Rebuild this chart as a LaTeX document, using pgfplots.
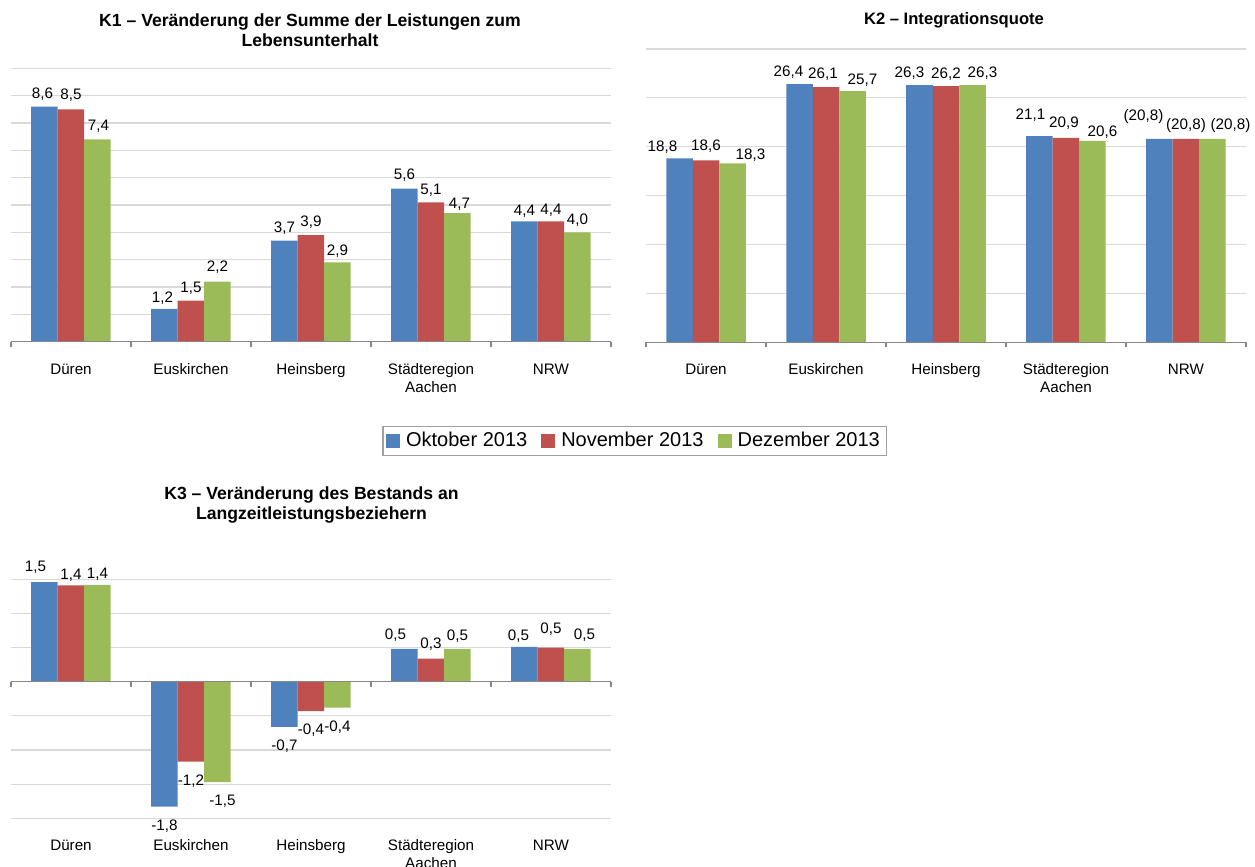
\documentclass[border=0pt]{standalone}
\usepackage{pgfplots}
\pgfplotsset{compat=1.18}
\usepackage{pgfplotstable}
\usepackage{fontspec}
\setmainfont{Liberation Sans}
\definecolor{cblue}{HTML}{4F81BD}
\definecolor{cred}{HTML}{C0504D}
\definecolor{cgreen}{HTML}{9BBB59}
\definecolor{gridc}{HTML}{D9D9D9}
\definecolor{axc}{HTML}{868686}
\definecolor{legc}{HTML}{A0A0A0}

% dx, dy: label offsets in px (dy = label centre above bar end)
\pgfplotstableread{
x a b c la lb lc dxa dxb dxc dya dyb dyc
0 8.6 8.5 7.4 8,6 8,5 7,4 -2 0 1 14 16 15
1 1.2 1.5 2.2 1,2 1,5 2,2 -2 0 0 13 14 16
2 3.7 3.9 2.9 3,7 3,9 2,9 0 0 0 14 15 13
3 5.6 5.1 4.7 5,6 5,1 4,7 0 0 2 15 14 11
4 4.4 4.4 4.0 4,4 4,4 4,0 0 0 0 12 13 14
}\kone

\pgfplotstableread{
x a b c la lb lc dxa dxb dxc dya dyb dyc
0 18.8 18.6 18.3 18,8 18,6 18,3 -17 0 18 13.3 16.6 10.2
1 26.4 26.1 25.7 26,4 26,1 25,7 -11 -3 10 14.4 14.6 12.9
2 26.3 26.2 26.3 26,3 26,2 26,3 -10 0 10 13.7 13.7 13.7
3 21.1 20.9 20.6 21,1 20,9 20,6 -9 -2 10 23 16.4 11
4 20.8 20.8 20.8 (20,8) (20,8) (20,8) -16 0 18 24 15.8 15.8
}\ktwo

\pgfplotstableread{
x a b c la lb lc dxa dxb dxc dya dyb dyc
0 1.46 1.41 1.42 1,5 1,4 1,4 -9 0 0 16.6 12.7 12.2
1 -1.83 -1.17 -1.47 -1,8 -1,2 -1,5 0 0 5 -17.7 -17.7 -17.3
2 -0.66 -0.43 -0.38 -0,7 -0,4 -0,4 0 0 0 -17.3 -16.6 -17.4
3 0.48 0.34 0.48 0,5 0,3 0,5 -9 0 0 16 16 14.3
4 0.51 0.50 0.48 0,5 0,5 0,5 -6 0 7 12.3 20.6 16
}\kthree

\pgfplotsset{
  kbase/.style={
    scale only axis, width=300pt,
    xmin=-0.5, xmax=4.5, enlargelimits=false,
    ybar=0pt, bar width=13.25pt,
    axis line style={draw=none},
    xtick={0,1,2,3,4},
    xticklabels={Düren,Euskirchen,Heinsberg,{Städteregion\\Aachen},NRW},
    typeset ticklabels with strut,
    xticklabel style={align=center, anchor=north, font=\fontsize{7.6}{9}\selectfont, yshift=-6.5pt},
    yticklabels={},
    major tick length=0pt,
    ymajorgrids, grid style={gridc, line width=0.6pt},
    clip=false,
    nodes near coords, point meta=explicit symbolic,
    every node near coord/.append style={font=\fontsize{7.6}{9}\selectfont, black,
      anchor=center, inner sep=0pt, xshift=0.5pt*\ldx, yshift=0.5pt*\ldy-1pt},
  },
  sa/.style={fill=cblue, draw=none,
    visualization depends on={\thisrow{dxa} \as \ldx},
    visualization depends on={\thisrow{dya} \as \ldy}},
  sb/.style={fill=cred, draw=none,
    visualization depends on={\thisrow{dxb} \as \ldx},
    visualization depends on={\thisrow{dyb} \as \ldy}},
  sc/.style={fill=cgreen, draw=none,
    visualization depends on={\thisrow{dxc} \as \ldx},
    visualization depends on={\thisrow{dyc} \as \ldy}},
}

\begin{document}
\begin{tikzpicture}
\path[use as bounding box] (0,0) rectangle (627.5pt,433.5pt);

% K1
\begin{axis}[kbase, at={(5.5pt,262.65pt)}, anchor=south west,
  height=136.7pt, ymin=0, ymax=10, ytick={0,1,...,10},
  legend style={at={(1.04,-0.3632)}, anchor=center, legend columns=3,
    draw=legc, line width=0.6pt, font=\fontsize{10}{12}\selectfont,
    inner xsep=1.5pt, inner ysep=1pt,
    /tikz/every odd column/.append style={column sep=1pt},
    /tikz/every even column/.append style={column sep=5pt}},
  legend image code/.code={\fill[#1] (0pt,-3.5pt) rectangle (7pt,3.5pt);},
]
\addplot[sa] table[x=x,y=a,meta=la] {\kone};
\addplot[sb] table[x=x,y=b,meta=lb] {\kone};
\addplot[sc] table[x=x,y=c,meta=lc] {\kone};
\legend{Oktober 2013,November 2013,Dezember 2013}
\draw[axc, line width=0.6pt] (axis cs:-0.5,0) -- (axis cs:4.5,0);
\pgfplotsinvokeforeach{-0.5,0.5,1.5,2.5,3.5,4.5}{\draw[axc, line width=0.6pt] (axis cs:#1,0) -- ++(0pt,-2.5pt);}
\end{axis}

% K2
\begin{axis}[kbase, at={(323pt,262.35pt)}, anchor=south west,
  height=146.65pt, ymin=0, ymax=30, ytick={0,5,...,30}]
\addplot[sa] table[x=x,y=a,meta=la] {\ktwo};
\addplot[sb] table[x=x,y=b,meta=lb] {\ktwo};
\addplot[sc] table[x=x,y=c,meta=lc] {\ktwo};
\draw[axc, line width=0.6pt] (axis cs:-0.5,0) -- (axis cs:4.5,0);
\pgfplotsinvokeforeach{-0.5,0.5,1.5,2.5,3.5,4.5}{\draw[axc, line width=0.6pt] (axis cs:#1,0) -- ++(0pt,-2.5pt);}
\end{axis}

% K3
\begin{axis}[kbase, at={(5.5pt,24.35pt)}, anchor=south west,
  height=119.5pt, ymin=-2, ymax=1.5, ytick={-2,-1.5,...,1.5}]
\addplot[sa] table[x=x,y=a,meta=la] {\kthree};
\addplot[sb] table[x=x,y=b,meta=lb] {\kthree};
\addplot[sc] table[x=x,y=c,meta=lc] {\kthree};
\draw[axc, line width=0.6pt] (axis cs:-0.5,0) -- (axis cs:4.5,0);
\pgfplotsinvokeforeach{-0.5,0.5,1.5,2.5,3.5,4.5}{\draw[axc, line width=0.6pt] (axis cs:#1,0) -- ++(0pt,-2.5pt);}
\end{axis}

% titles
\node[align=center, font=\bfseries\fontsize{8.8}{10}\selectfont] at (155pt,418.5pt)
  {K1 – Veränderung der Summe der Leistungen zum\\Lebensunterhalt};
\node[align=center, font=\bfseries\fontsize{8.3}{10}\selectfont] at (477pt,423.5pt)
  {K2 – Integrationsquote};
\node[align=center, font=\bfseries\fontsize{8.8}{10}\selectfont] at (155.75pt,181pt)
  {K3 – Veränderung des Bestands an\\Langzeitleistungsbeziehern};
\end{tikzpicture}
\end{document}
